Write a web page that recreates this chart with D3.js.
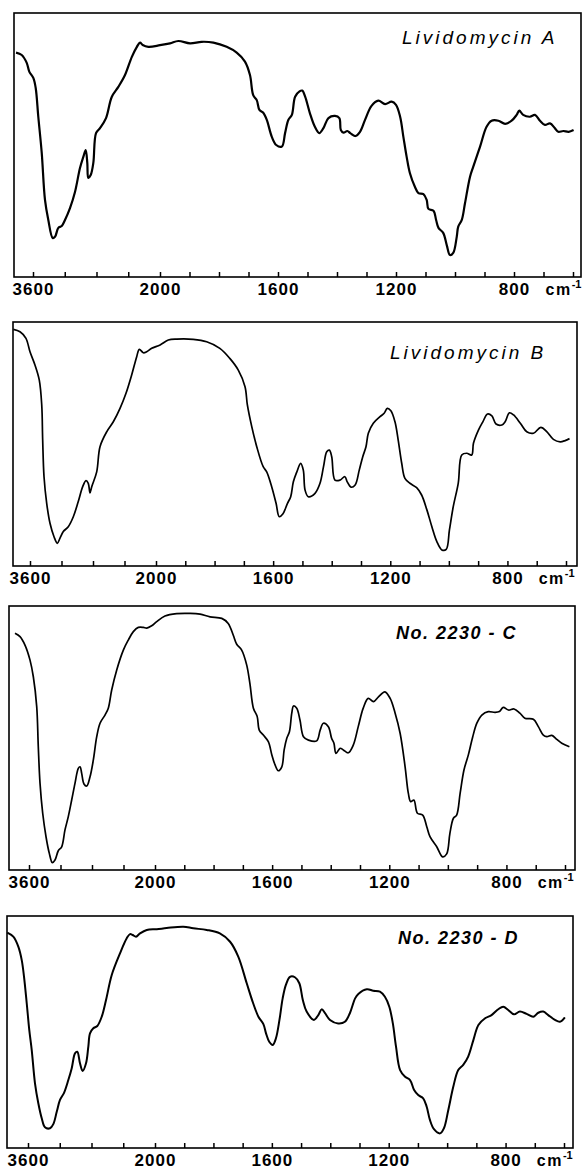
<!DOCTYPE html>
<html>
<head>
<meta charset="utf-8">
<script src="https://cdn.jsdelivr.net/npm/d3@7/dist/d3.min.js"></script>
<style>
  body { margin: 0; background: #fff; }
  svg { display: block; }
  .tick-label { font-family: "Liberation Sans", Arial, sans-serif; font-weight: bold; font-size: 17px; letter-spacing: 1px; }
  .unit { font-family: "Liberation Sans", Arial, sans-serif; font-weight: bold; font-size: 16px; letter-spacing: 1.5px; }
  .title { font-family: "Liberation Sans", Arial, sans-serif; font-style: italic; }
</style>
</head>
<body>
<script>
// IR spectra, four samples. x = wavenumber (cm-1), y = % transmittance (0 = axis, 100 = top of frame)

var tickWn = [3600, 3200, 2800, 2400, 2000, 1900, 1800, 1700, 1600, 1500, 1400, 1300, 1200, 1100, 1000, 900, 800, 700, 600];
var labelWn = [3600, 2000, 1600, 1200, 800];
var titles = ["Lividomycin A", "Lividomycin B", "No. 2230 - C", "No. 2230 - D"];

// Lividomycin A
var wnA = [3814,3742,3679,3647,3596,3566,3533,3490,3449,3407,
  3352,3323,3281,3238,3197,3134,3071,3008,2966,2936,
  2916,2903,2873,2840,2806,2756,2680,2608,2525,2441,
  2356,2293,2252,2218,2147,2000,1966,1938,1898,1859,
  1819,1774,1740,1712,1695,1684,1672,1663,1650,1638,
  1621,1606,1587,1576,1565,1553,1542,1527,1518,1508,
  1492,1475,1460,1446,1429,1407,1392,1387,1378,1365,
  1355,1338,1322,1305,1283,1260,1237,1215,1200,1186,
  1175,1164,1153,1136,1124,1107,1096,1090,1073,1064,
  1056,1040,1028,1017,1006,994,989,977,966,949,
  938,915,893,876,853,830,808,791,782,769,
  746,729,712,695,678,661,650,633,615,598];
var tA = [85.0,84.1,81.1,77.8,75.4,71.6,60.6,47.0,29.2,21.6,
  14.8,15.2,18.6,19.3,21.6,26.1,32.2,41.3,45.5,48.1,
  43.2,37.5,38.6,43.2,54.5,56.4,60.2,68.2,72.0,76.5,
  83.3,87.1,88.8,87.9,87.2,87.8,88.5,89.4,88.5,89.1,
  88.8,87.2,85.0,81.6,76.5,68.9,67.0,63.3,62.2,59.5,
  53.1,50.0,49.4,54.5,59.5,61.4,68.3,70.3,70.6,68.3,
  62.1,56.9,54.5,56.4,60.2,61.0,60.2,55.7,54.7,55.3,
  54.5,53.4,55.0,59.5,64.8,66.8,65.5,66.4,65.2,60.7,
  53.1,45.6,39.4,34.2,31.8,31.4,29.2,25.8,25.1,21.6,
  18.6,16.7,12.1,8.3,9.1,15.3,19.1,21.6,28.0,38.0,
  41.8,49.4,56.9,59.2,59.2,58.0,59.2,61.4,63.0,61.4,
  60.7,61.4,59.2,57.6,58.2,56.3,55.0,55.3,55.0,55.7];

// Lividomycin B
var wnB = [3812,3727,3651,3600,3537,3482,3451,3439,3422,3388,
  3346,3295,3253,3219,3177,3114,3050,2987,2931,2889,
  2860,2838,2816,2753,2711,2626,2542,2457,2381,2309,
  2245,2212,2161,2118,2055,1986,1958,1929,1873,1827,
  1782,1748,1719,1696,1688,1673,1656,1634,1622,1605,
  1590,1579,1567,1551,1540,1531,1519,1506,1497,1491,
  1480,1457,1440,1428,1417,1408,1400,1389,1372,1355,
  1347,1334,1320,1306,1294,1283,1275,1258,1235,1221,
  1210,1198,1184,1173,1161,1150,1133,1110,1093,1075,
  1058,1041,1024,1009,998,985,968,956,939,922,
  916,899,884,868,853,839,819,808,793,779,
  756,734,711,686,665,643,620,603,588];
var tB = [97.0,96.0,93.3,87.8,82.4,76.2,66.0,51.6,36.6,25.7,
  17.5,12.0,9.3,11.4,14.1,16.1,20.2,26.4,32.5,35.0,
  33.9,30.0,32.5,38.6,48.9,55.0,59.1,64.6,70.8,78.3,
  85.8,88.8,87.4,87.8,89.2,90.6,92.6,93.0,92.9,91.9,
  89.2,85.1,80.3,73.5,66.0,57.1,48.9,40.7,38.6,32.5,
  25.7,20.2,21.3,25.7,28.4,34.5,38.6,42.1,39.3,31.1,
  28.4,29.8,33.9,40.7,46.8,47.5,44.8,35.2,35.2,36.6,
  34.5,32.3,33.2,39.3,44.8,48.9,54.4,58.5,61.2,62.6,
  64.6,63.6,59.1,51.6,42.1,35.9,33.9,32.1,29.1,23.0,
  16.1,10.0,6.6,6.8,14.8,24.3,33.9,45.5,46.2,45.5,
  50.3,55.7,59.1,62.3,61.5,58.2,57.8,59.1,62.8,61.9,
  58.5,55.0,54.4,56.8,55.0,51.9,50.9,51.4,52.2];

// No. 2230-C
var wnC = [3778,3714,3651,3587,3545,3502,3482,3460,3426,3384,
  3342,3304,3270,3228,3185,3143,3101,3058,3016,2974,
  2952,2931,2902,2867,2825,2783,2740,2698,2635,2593,
  2550,2486,2402,2339,2275,2212,2148,2105,2042,1994,
  1966,1926,1880,1846,1812,1772,1750,1733,1721,1704,
  1687,1676,1664,1651,1644,1630,1613,1601,1590,1579,
  1567,1559,1550,1541,1533,1527,1516,1505,1493,1476,
  1448,1436,1425,1408,1397,1389,1382,1368,1357,1340,
  1323,1306,1289,1272,1254,1237,1215,1197,1180,1163,
  1146,1135,1127,1116,1104,1086,1072,1061,1038,1018,
  1004,993,981,970,958,945,930,915,901,884,
  862,839,824,811,793,774,754,737,708,691,
  674,662,645,628,611,585];
var tC = [89.7,88.4,85.2,79.5,73.2,61.9,46.7,32.8,21.5,12.6,
  6.3,2.8,3.8,7.3,8.8,15.2,20.2,26.5,32.8,38.5,
  39.1,36.6,32.6,31.8,35.3,41.7,50.5,55.6,58.7,61.3,
  68.2,75.8,83.3,87.1,90.3,91.9,91.9,91.6,92.5,94.1,
  96.2,97.1,97.2,96.9,95.9,95.3,93.4,89.0,85.5,83.3,
  77.7,70.7,61.3,58.1,53.0,51.1,48.6,43.6,39.8,37.6,
  39.1,45.5,49.9,52.4,59.4,62.1,61.3,56.8,50.5,49.2,
  48.9,53.0,55.6,54.3,49.9,48.0,44.2,46.1,45.5,44.4,
  47.3,54.3,61.3,65.0,63.8,65.6,67.5,65.0,59.4,51.8,
  39.1,29.1,25.9,26.5,21.5,20.8,16.4,12.6,8.8,5.0,
  6.1,13.9,19.6,20.8,29.1,37.9,43.6,50.5,55.6,58.7,
  60.0,59.7,60.0,61.6,60.6,61.0,59.4,57.5,57.1,54.3,
  51.1,50.5,51.0,49.5,48.0,46.7];

// No. 2230-D
var wnD = [3861,3785,3722,3679,3650,3616,3584,3553,3512,3470,
  3427,3386,3323,3281,3238,3197,3146,3092,3049,3008,
  2979,2945,2911,2869,2840,2819,2777,2727,2671,2617,
  2545,2441,2356,2315,2281,2239,2189,2104,1994,1960,
  1903,1869,1823,1778,1743,1715,1686,1664,1646,1629,
  1620,1609,1597,1586,1574,1563,1552,1538,1521,1506,
  1494,1481,1456,1441,1429,1418,1401,1373,1350,1333,
  1315,1304,1275,1253,1230,1213,1198,1186,1175,1161,
  1144,1127,1113,1099,1082,1070,1059,1045,1024,1011,
  996,979,962,945,928,910,893,870,848,825,
  808,791,771,751,728,705,688,671,654,631,
  614,597];
var tD = [92.8,91.1,86.8,81.0,73.8,62.4,50.9,42.2,27.9,19.3,
  12.8,8.9,8.5,10.3,15.6,20.7,23.8,29.3,34.4,40.8,
  41.5,36.5,33.2,36.5,43.7,49.4,51.6,52.6,56.6,63.8,
  74.6,83.9,90.4,92.2,91.8,91.1,92.5,94.0,94.3,94.8,
  95.4,94.7,94.0,92.5,88.9,82.5,71.0,62.4,56.6,53.4,
  49.4,45.8,44.4,47.3,55.2,64.5,70.3,73.8,73.6,71.0,
  63.8,58.8,55.2,57.3,59.8,58.1,55.2,53.7,54.4,58.1,
  64.5,66.4,68.4,67.8,67.4,65.2,60.9,53.8,43.7,33.6,
  30.7,29.3,25.0,22.8,21.4,17.8,12.1,8.1,6.3,8.5,
  16.4,26.4,33.6,35.8,39.4,46.6,53.0,55.9,57.3,59.8,
  60.9,59.5,57.6,58.8,57.8,56.6,58.3,58.8,57.3,55.2,
  54.4,56.3];

var spectra = [[wnA, tA], [wnB, tB], [wnC, tC], [wnD, tD]];

// Set up chart
var svgWidth = 587;
var svgHeight = 1172;

var svg = d3.select("body").append("svg").attr("width", svgWidth).attr("height", svgHeight);

// panel frames (the chart changes scale at 2000 cm-1)
var panels = [
  {top: 13,  bottom: 277,  left: 14, right: 581, xr: [33, 160, 573], lw: 2.2, tx: 402, ty: 44,  bold: false},
  {top: 322, bottom: 566,  left: 13, right: 577, xr: [30, 156, 566], lw: 1.7, tx: 390, ty: 359, bold: false},
  {top: 606, bottom: 870,  left: 9,  right: 575, xr: [29, 155, 565], lw: 1.7, tx: 396, ty: 639, bold: true},
  {top: 916, bottom: 1148, left: 7,  right: 573, xr: [28, 155, 564], lw: 2.0, tx: 398, ty: 944, bold: true}
];

panels.forEach(function(p, i) {
  var xScale = d3.scaleLinear().domain([3600, 2000, 600]).range(p.xr);
  var yScale = d3.scaleLinear().domain([0, 100]).range([p.bottom, p.top]);

  var g = svg.append("g");

  // frame
  g.append("rect")
    .attr("x", p.left)
    .attr("y", p.top)
    .attr("width", p.right - p.left)
    .attr("height", p.bottom - p.top)
    .attr("fill", "none")
    .attr("stroke", "#000")
    .attr("stroke-width", 1.6);

  // x-axis, ticks point up into the plot
  var xAxis = d3.axisBottom(xScale)
    .tickValues(tickWn)
    .tickSize(-5)
    .tickSizeOuter(0)
    .tickPadding(6)
    .tickFormat(function(d) { return labelWn.indexOf(d) >= 0 ? d : ""; });

  var ax = g.append("g")
    .attr("transform", "translate(0," + p.bottom + ")")
    .call(xAxis);
  ax.select(".domain").remove();
  ax.selectAll("line").attr("stroke", "#000").attr("stroke-width", 1.5);
  ax.selectAll("text").attr("class", "tick-label").attr("fill", "#000");

  // cm-1 unit
  var unit = g.append("text")
    .attr("class", "unit")
    .attr("x", xScale(700) + 2)
    .attr("y", p.bottom + 18);
  unit.append("tspan").text("cm");
  unit.append("tspan").attr("dy", -7).style("font-size", "11px").style("letter-spacing", "0px").text("-1");

  // title
  g.append("text")
    .attr("class", "title")
    .attr("x", p.tx)
    .attr("y", p.ty)
    .style("font-size", p.bold ? "18px" : "19px")
    .style("font-weight", p.bold ? "bold" : "normal")
    .style("letter-spacing", p.bold ? "1.5px" : "3px")
    .text(titles[i]);

  // spectrum
  var pts = spectra[i][0].map(function(w, k) { return {wn: w, t: spectra[i][1][k]}; });
  var line = d3.line()
    .x(function(d) { return xScale(d.wn); })
    .y(function(d) { return yScale(d.t); })
    .curve(d3.curveCatmullRom.alpha(0.5));

  g.append("path")
    .datum(pts)
    .attr("d", line)
    .attr("fill", "none")
    .attr("stroke", "#000")
    .attr("stroke-width", p.lw)
    .attr("stroke-linejoin", "round");
});
</script>
</body>
</html>
